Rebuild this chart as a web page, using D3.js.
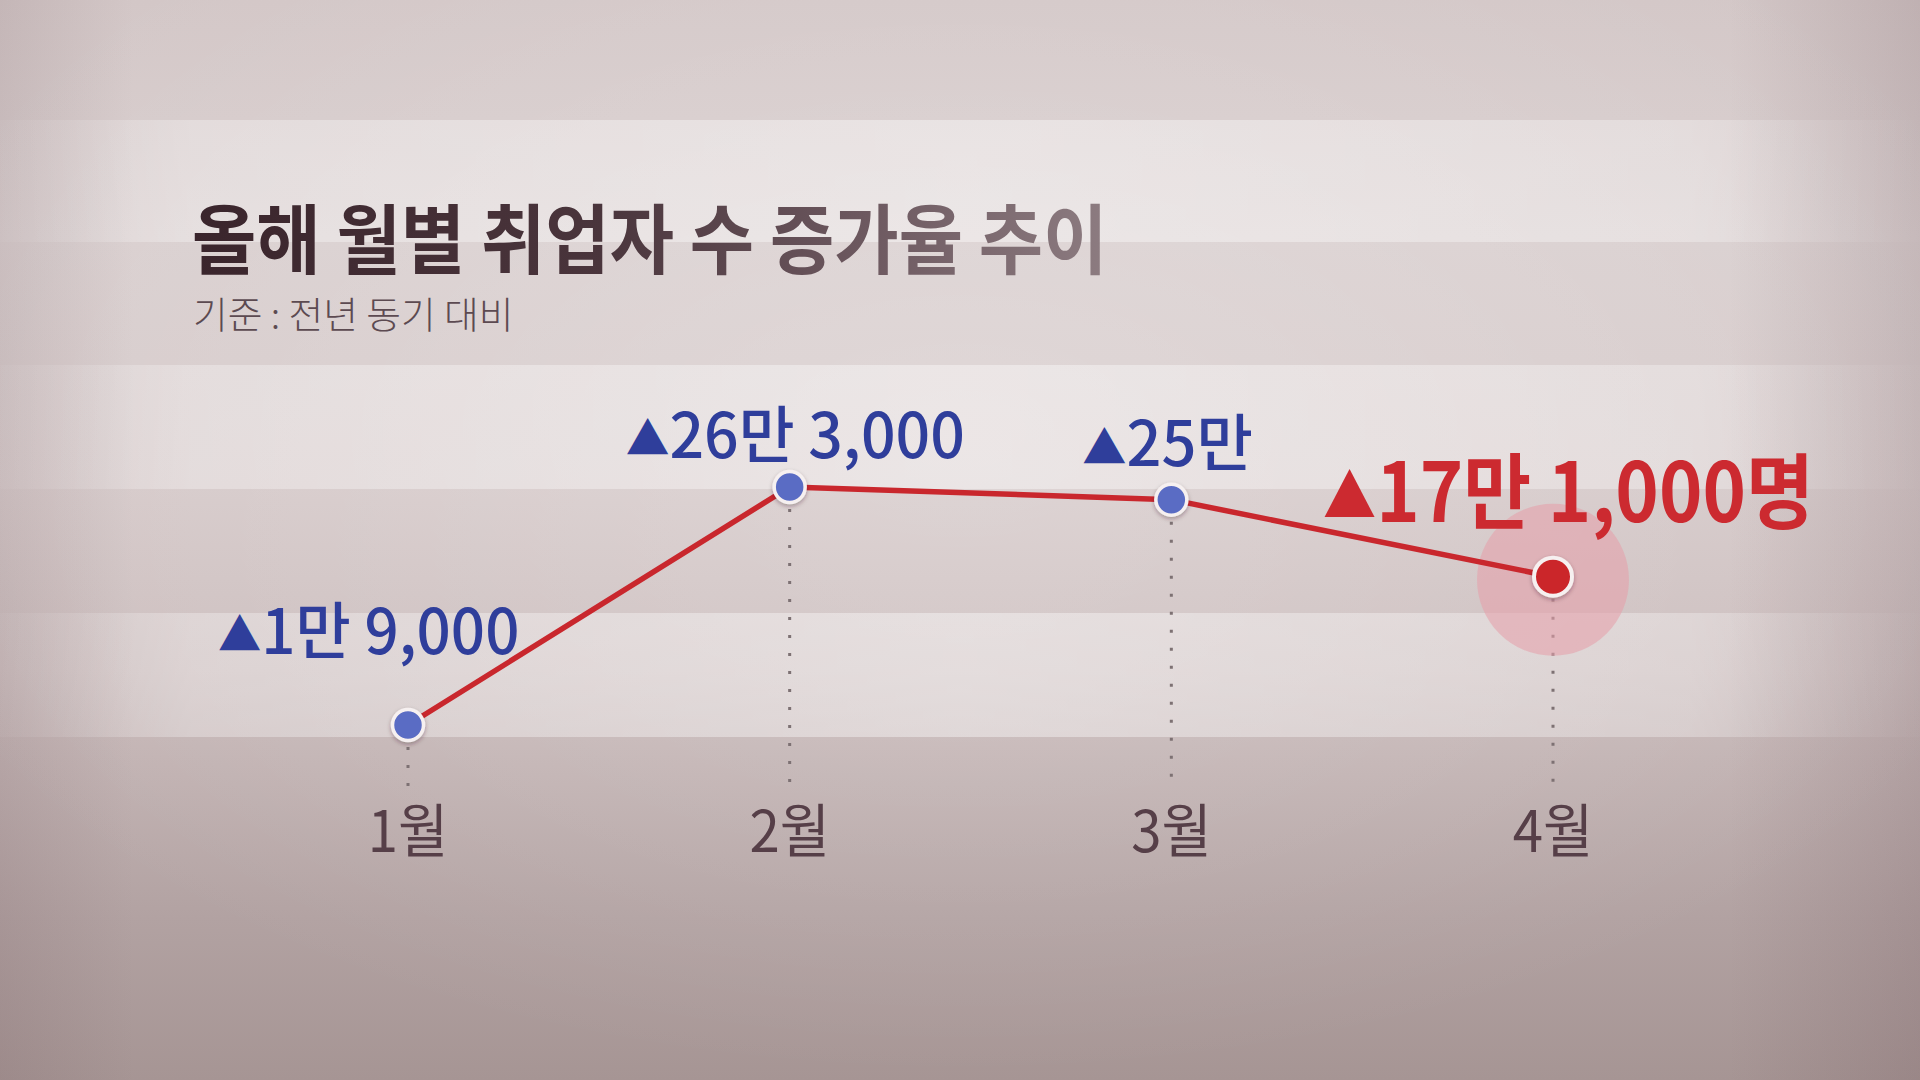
<!DOCTYPE html>
<html><head><meta charset="utf-8">
<script src="https://cdn.jsdelivr.net/npm/d3@7/dist/d3.min.js"></script>
<style>
html,body{margin:0;padding:0;background:#b8a8a8;overflow:hidden;}
svg{display:block;}
text{font-family:"Noto Sans CJK KR","Noto Sans",sans-serif;}
</style></head>
<body>
<svg id="chart" width="1920" height="1080"></svg>
<script>
// ---- data ----
const titleText = "올해 월별 취업자 수 증가율 추이";
const subtitleText = "기준 : 전년 동기 대비";
const months = ["1월", "2월", "3월", "4월"];
const values = [19000, 263000, 250000, 171000];
const valueLabels = ["1만 9,000", "26만 3,000", "25만", "17만 1,000명"];
const highlightIndex = 3;

// ---- layout ----
const W = 1920, H = 1080;
const svg = d3.select("#chart");
const defs = svg.append("defs");

const x = d3.scalePoint().domain(months).range([408, 1553]);
const y = d3.scaleLinear().domain([0, 300000]).range([743.5, 450.9]);
const axisY = 790;

// background gradients
const bg = defs.append("linearGradient").attr("id","bg").attr("x1",0).attr("y1",0).attr("x2",0).attr("y2",1);
[[0,"#d3c7c7"],[0.22,"#d9cfcf"],[0.45,"#d5c9c9"],[0.62,"#cbbdbd"],[0.7,"#c2b3b3"],[0.85,"#b2a2a2"],[1,"#a69594"]]
  .forEach(([o,c])=>bg.append("stop").attr("offset",o).attr("stop-color",c));
svg.append("rect").attr("width",W).attr("height",H).attr("fill","url(#bg)");

const glow = defs.append("radialGradient").attr("id","glow").attr("cx",0.5).attr("cy",0.4).attr("r",0.6);
glow.append("stop").attr("offset",0).attr("stop-color","#fff").attr("stop-opacity",0.22);
glow.append("stop").attr("offset",1).attr("stop-color","#fff").attr("stop-opacity",0);
svg.append("rect").attr("width",W).attr("height",H).attr("fill","url(#glow)");

const bandG = defs.append("linearGradient").attr("id","band").attr("x1",0).attr("y1",0).attr("x2",1).attr("y2",0);
[[0,0.05],[0.1,0.3],[0.5,0.4],[0.88,0.3],[1,0.02]]
  .forEach(([o,a])=>bandG.append("stop").attr("offset",o).attr("stop-color","#fff").attr("stop-opacity",a));
const bands = [[120,242],[365,489],[613,737]];
svg.selectAll("rect.band").data(bands).join("rect").attr("class","band")
  .attr("x",0).attr("width",W).attr("y",d=>d[0]).attr("height",d=>d[1]-d[0]).attr("fill","url(#band)");

const vig = defs.append("linearGradient").attr("id","vig").attr("x1",0).attr("y1",0).attr("x2",1).attr("y2",0);
[[0,"#5a3c44",0.12],[0.07,"#5a3c44",0],[0.9,"#5a3c44",0],[1,"#5a3c44",0.16]]
  .forEach(([o,c,a])=>vig.append("stop").attr("offset",o).attr("stop-color",c).attr("stop-opacity",a));
svg.append("rect").attr("width",W).attr("height",H).attr("fill","url(#vig)");

// shadow filter
const f = defs.append("filter").attr("id","sh").attr("x","-50%").attr("y","-50%").attr("width","200%").attr("height","200%");
f.append("feDropShadow").attr("dx",0).attr("dy",2).attr("stdDeviation",2).attr("flood-color","#3a2028").attr("flood-opacity",0.35);

// title
const tg = defs.append("linearGradient").attr("id","tg").attr("gradientUnits","userSpaceOnUse")
  .attr("x1",0).attr("y1",0).attr("x2",990).attr("y2",0);
[[0,"#3a252c"],[0.45,"#4a353c"],[0.75,"#6e5a61"],[1,"#8c7b80"]]
  .forEach(([o,c])=>tg.append("stop").attr("offset",o).attr("stop-color",c));
svg.append("g").attr("transform","translate(192,268) scale(0.92,1)")
  .append("text").attr("font-size",76).attr("font-weight",700)
  .attr("fill","url(#tg)").text(titleText);
svg.append("g").attr("transform","translate(193,329) scale(1.02,1)")
  .append("text").attr("font-size",37).attr("font-weight",300)
  .attr("fill","#5c4a51").text(subtitleText);

// drop lines (dotted)
svg.selectAll("line.drop").data(months).join("line").attr("class","drop")
  .attr("x1",d=>x(d)).attr("x2",d=>x(d))
  .attr("y1",(d,i)=>y(values[i])+22).attr("y2",axisY)
  .attr("stroke","#7d7173").attr("stroke-width",3).attr("stroke-dasharray","3,15");

// x labels
svg.selectAll("g.xl").data(months).join("g").attr("class","xl")
  .attr("transform",d=>`translate(${x(d)},852) scale(0.94,1)`)
  .append("text").attr("text-anchor","middle")
  .attr("font-size",58).attr("font-weight",400).attr("fill","#563f48").text(d=>d);

// halo
svg.append("circle").attr("cx",x(months[highlightIndex])).attr("cy",y(values[highlightIndex])+3)
  .attr("r",76).attr("fill","#e6a0aa").attr("opacity",0.58);

// line
const line = d3.line().x((d,i)=>x(months[i])).y(d=>y(d));
svg.append("path").datum(values).attr("d",line).attr("fill","none")
  .attr("stroke","#c9272d").attr("stroke-width",5.5).attr("stroke-linejoin","round");

// points
svg.selectAll("circle.pt").data(values).join("circle").attr("class","pt")
  .attr("cx",(d,i)=>x(months[i])).attr("cy",d=>y(d))
  .attr("r",(d,i)=>i===highlightIndex?19:15.5)
  .attr("fill",(d,i)=>i===highlightIndex?"#cb262c":"#5a6cc4")
  .attr("stroke","#f6f0f0").attr("stroke-width",(d,i)=>i===highlightIndex?4:3.5)
  .attr("filter","url(#sh)");

// value labels
const labelDx = [-190, -164, -89, -230];
const labelDy = [-72, -30, -34, -56];
const labelSize = [62, 62, 62, 82];
const labelK = [0.97, 0.98, 0.99, 0.9];
const lab = svg.selectAll("g.vl").data(values).join("g").attr("class","vl")
  .attr("transform",(d,i)=>`translate(${x(months[i])+labelDx[i]},${y(d)+labelDy[i]}) scale(${labelK[i]},1)`)
  .append("text")
  .attr("font-size",(d,i)=>labelSize[i])
  .attr("font-weight",(d,i)=>i===highlightIndex?700:500)
  .attr("fill",(d,i)=>i===highlightIndex?"#cc2a30":"#2f3e9b");
lab.append("tspan").attr("font-size","0.72em").attr("dy","-0.04em").text("▲");
lab.append("tspan").attr("dy","0.04em").text((d,i)=>valueLabels[i]);
</script>
</body></html>
